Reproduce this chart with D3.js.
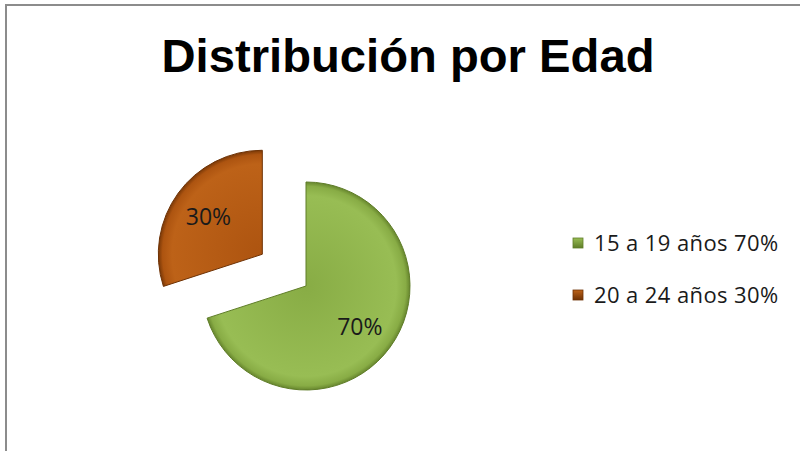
<!DOCTYPE html>
<html><head><meta charset="utf-8">
<script src="https://cdn.jsdelivr.net/npm/d3@7"></script>
<style>body{margin:0;background:#fff}svg{display:block}</style>
</head><body>
<script>
const title = "Distribución por Edad";
const categories = ["15 a 19 años", "20 a 24 años"];
const values = [70, 30];
const colors = ["#88ac45", "#ad5410"];
const edgeColors = ["#5f7d28", "#6e3205"];
const lightColors = ["#98bd54", "#bd6218"];

const W = 800, H = 451;
const svg = d3.select("body").append("svg").attr("width", W).attr("height", H);

svg.append("rect").attr("x", 6).attr("y", 5).attr("width", W + 10).attr("height", H + 10)
  .attr("fill", "#fff").attr("stroke", "#8c8c8c").attr("stroke-width", 2);

svg.append("text").attr("x", 408).attr("y", 72).attr("text-anchor", "middle")
  .attr("font-family", "Liberation Sans, Arial, sans-serif").attr("font-weight", "bold")
  .attr("font-size", 47).attr("textLength", 493).attr("lengthAdjust", "spacingAndGlyphs")
  .attr("fill", "#000").text(title);

const defs = svg.append("defs");
colors.forEach((c, i) => {
  const g = defs.append("radialGradient").attr("id", "g" + i)
    .attr("gradientUnits", "userSpaceOnUse").attr("cx", 0).attr("cy", 0).attr("r", 105);
  g.append("stop").attr("offset", "0%").attr("stop-color", c);
  g.append("stop").attr("offset", "86%").attr("stop-color", lightColors[i]);
  g.append("stop").attr("offset", "95%").attr("stop-color", c);
  g.append("stop").attr("offset", "100%").attr("stop-color", edgeColors[i]);
  const lg = defs.append("linearGradient").attr("id", "l" + i)
    .attr("x1", 0).attr("y1", 0).attr("x2", 0).attr("y2", 1);
  lg.append("stop").attr("offset", "0%").attr("stop-color", lightColors[i]);
  lg.append("stop").attr("offset", "100%").attr("stop-color", edgeColors[i]);
});

const cx = 306, cy = 286, R = 104, explode = 54;
const pie = d3.pie().sort(null).value(d => d)(values);
const arc = d3.arc().innerRadius(0).outerRadius(R);
const labelArc = d3.arc().innerRadius(R * 0.64).outerRadius(R * 0.64);

const g = svg.append("g").attr("transform", `translate(${cx},${cy})`);
const slices = g.selectAll("g.s").data(pie).join("g").attr("class", "s")
  .attr("transform", (d, i) => {
    if (i === 0) return null;
    const a = (d.startAngle + d.endAngle) / 2;
    return `translate(${Math.sin(a) * explode},${-Math.cos(a) * explode})`;
  });
slices.append("path").attr("d", arc).attr("fill", (d, i) => `url(#g${i})`)
  .attr("stroke", (d, i) => edgeColors[i]).attr("stroke-width", 1).attr("stroke-linejoin", "round");
slices.append("text")
  .attr("transform", (d, i) => {
    const [x, y] = labelArc.centroid(d);
    return `translate(${x},${y + 2})`;
  })
  .attr("text-anchor", "middle").attr("dy", "0.35em")
  .attr("font-family", "Open Sans, sans-serif").attr("font-size", 23).attr("fill", "#1a1a1a")
  .text(d => d.value + "%");

const leg = svg.append("g").attr("transform", "translate(573,243)");
const items = leg.selectAll("g").data(categories).join("g")
  .attr("transform", (d, i) => `translate(0,${i * 52})`);
items.append("rect").attr("x", 0).attr("y", -5).attr("width", 10).attr("height", 10)
  .attr("fill", (d, i) => `url(#l${i})`).attr("stroke", (d, i) => edgeColors[i]).attr("stroke-width", 0.8);
items.append("text").attr("x", 21).attr("y", 0).attr("dy", "0.35em")
  .attr("font-family", "Open Sans, sans-serif").attr("font-size", 22).attr("letter-spacing", 0.4)
  .attr("fill", "#1a1a1a")
  .text((d, i) => `${d} ${values[i]}%`);
</script>
</body></html>
